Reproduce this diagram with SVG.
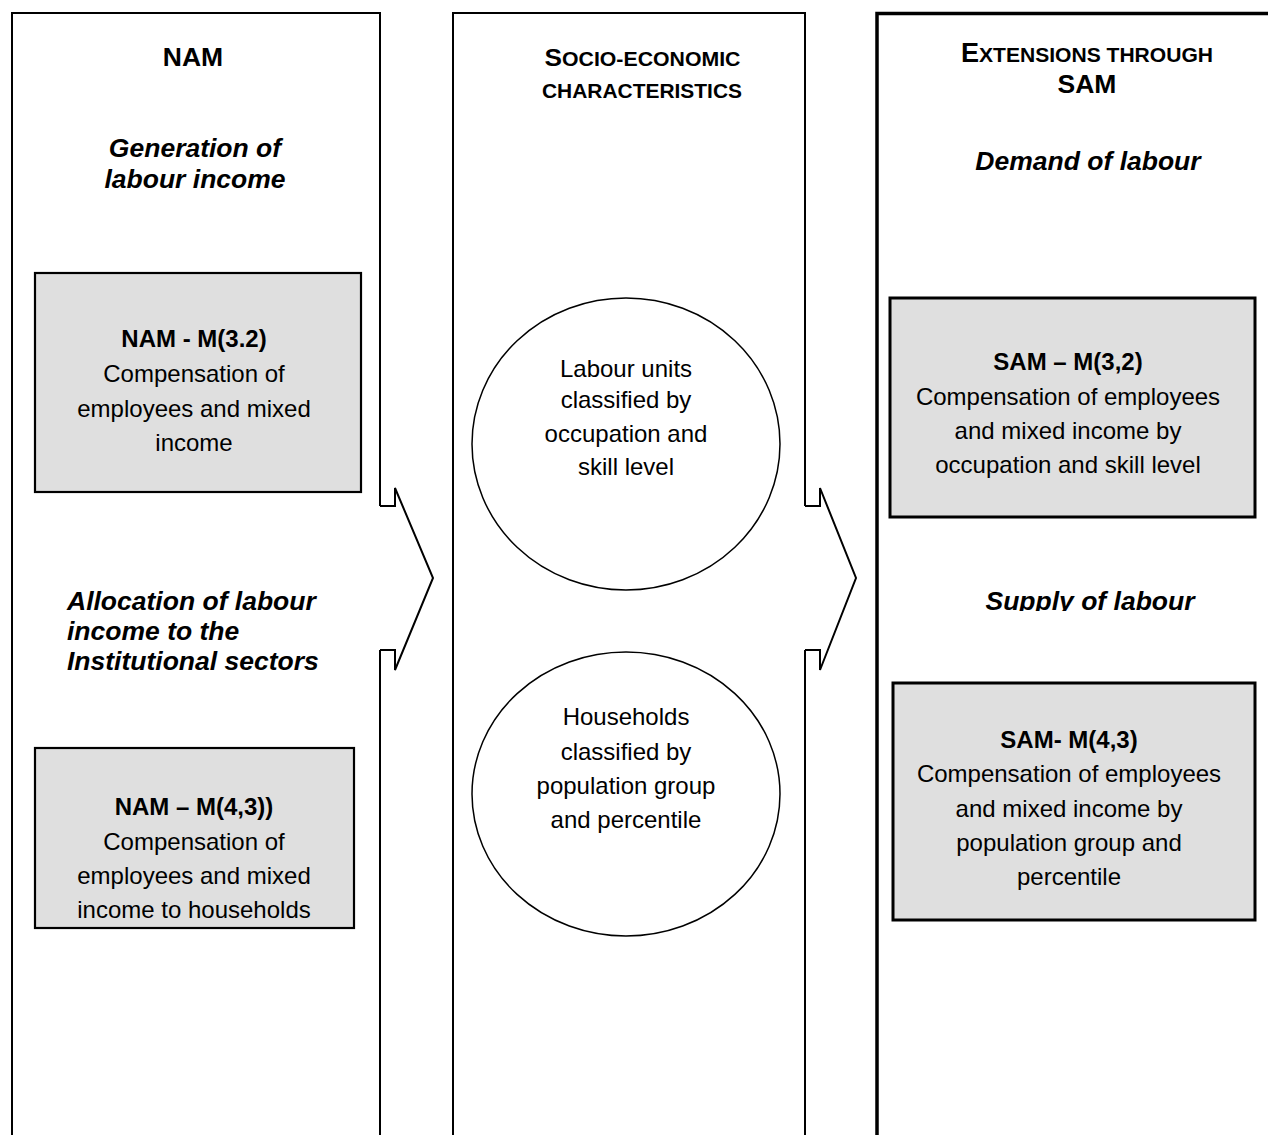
<svg xmlns="http://www.w3.org/2000/svg" width="1268" height="1135" viewBox="0 0 1268 1135">
<style>
.col{fill:none;stroke:#000;stroke-width:2;stroke-linejoin:miter}
.colb{fill:none;stroke:#000;stroke-width:3.5}
.arr{fill:none;stroke:#000;stroke-width:2;stroke-linejoin:miter}
.box{fill:#dfdfdf;stroke:#000;stroke-width:2.2}
.boxb{fill:#dfdfdf;stroke:#000;stroke-width:3}
.ell{fill:#fff;stroke:#000;stroke-width:1.5}
text{font-family:"Liberation Sans",Arial,sans-serif;fill:#000}
.hd{font-size:26.5px;font-weight:bold}
.hi{font-size:26.5px;font-weight:bold;font-style:italic}
.bd{font-size:24px}
.bb{font-size:24px;font-weight:bold}
.sc{font-weight:bold}
</style>
<defs>
<clipPath id="clipSupply"><rect x="900" y="580" width="360" height="31"/></clipPath>
</defs>
<rect x="0" y="0" width="1268" height="1135" fill="#fff"/>

<g id="col-nam">
<path class="col" d="M12,1140 V13 H380 V506 M380,650 V1140"/>
<text class="hd" x="193" y="66" text-anchor="middle">NAM</text>
<text class="hi" x="195" y="157" text-anchor="middle">Generation of</text>
<text class="hi" x="195" y="188" text-anchor="middle">labour income</text>
<text class="hi" x="67" y="610">Allocation of labour</text>
<text class="hi" x="67" y="640">income to the</text>
<text class="hi" x="67" y="670">Institutional sectors</text>
</g>

<g id="col-socio">
<path class="col" d="M453,1140 V13 H805 V506 M805,650 V1140"/>
<text class="sc" x="642.5" y="66" text-anchor="middle" textLength="196" lengthAdjust="spacingAndGlyphs"><tspan font-size="24">S</tspan><tspan font-size="19.5">OCIO-ECONOMIC</tspan></text>
<text class="sc" x="642" y="98" text-anchor="middle" font-size="19.5" textLength="200" lengthAdjust="spacingAndGlyphs">CHARACTERISTICS</text>
</g>

<g id="col-sam">
<path class="colb" d="M877,1140 V13.5 H1272"/>
<text class="sc" x="1087" y="62" text-anchor="middle" textLength="252" lengthAdjust="spacingAndGlyphs"><tspan font-size="27">E</tspan><tspan font-size="21">XTENSIONS THROUGH</tspan></text>
<text class="hd" x="1087" y="93" text-anchor="middle" font-size="25.5">SAM</text>
<text class="hi" x="1088" y="170" text-anchor="middle">Demand of labour</text>
<text class="hi" x="1090" y="610" text-anchor="middle" clip-path="url(#clipSupply)">Supply of labour</text>
</g>

<g id="box-nam-m32">
<rect class="box" x="35" y="273" width="326" height="219"/>
<text class="bb" x="194" y="347" text-anchor="middle">NAM - M(3.2)</text>
<text class="bd" x="194" y="382" text-anchor="middle">Compensation of</text>
<text class="bd" x="194" y="416.5" text-anchor="middle">employees and mixed</text>
<text class="bd" x="194" y="451" text-anchor="middle">income</text>
</g>

<g id="box-nam-m43">
<rect class="box" x="35" y="748" width="319" height="180"/>
<text class="bb" x="194" y="815" text-anchor="middle">NAM – M(4,3))</text>
<text class="bd" x="194" y="849.5" text-anchor="middle">Compensation of</text>
<text class="bd" x="194" y="884" text-anchor="middle">employees and mixed</text>
<text class="bd" x="194" y="918" text-anchor="middle">income to households</text>
</g>

<g id="ell-labour">
<ellipse class="ell" cx="626" cy="444" rx="154" ry="146"/>
<text class="bd" x="626" y="377" text-anchor="middle">Labour units</text>
<text class="bd" x="626" y="408" text-anchor="middle">classified by</text>
<text class="bd" x="626" y="442" text-anchor="middle">occupation and</text>
<text class="bd" x="626" y="475" text-anchor="middle">skill level</text>
</g>

<g id="ell-households">
<ellipse class="ell" cx="626" cy="794" rx="154" ry="142"/>
<text class="bd" x="626" y="725" text-anchor="middle">Households</text>
<text class="bd" x="626" y="760" text-anchor="middle">classified by</text>
<text class="bd" x="626" y="794" text-anchor="middle">population group</text>
<text class="bd" x="626" y="828" text-anchor="middle">and percentile</text>
</g>

<g id="box-sam-m32">
<rect class="boxb" x="890" y="298" width="365" height="219"/>
<text class="bb" x="1068" y="370" text-anchor="middle">SAM – M(3,2)</text>
<text class="bd" x="1068" y="404.5" text-anchor="middle">Compensation of employees</text>
<text class="bd" x="1068" y="438.5" text-anchor="middle">and mixed income by</text>
<text class="bd" x="1068" y="472.5" text-anchor="middle">occupation and skill level</text>
</g>

<g id="box-sam-m43">
<rect class="boxb" x="893" y="683" width="362" height="237"/>
<text class="bb" x="1069" y="748" text-anchor="middle">SAM- M(4,3)</text>
<text class="bd" x="1069" y="782" text-anchor="middle">Compensation of employees</text>
<text class="bd" x="1069" y="816.5" text-anchor="middle">and mixed income by</text>
<text class="bd" x="1069" y="851" text-anchor="middle">population group and</text>
<text class="bd" x="1069" y="885" text-anchor="middle">percentile</text>
</g>

<g id="connectors">
<path class="arr" d="M380,506 H395 V488 L433,578 L395,670 V650 H380"/>
<path class="arr" d="M805,506 H820 V488 L856,578 L820,670 V650 H805"/>
</g>
</svg>
